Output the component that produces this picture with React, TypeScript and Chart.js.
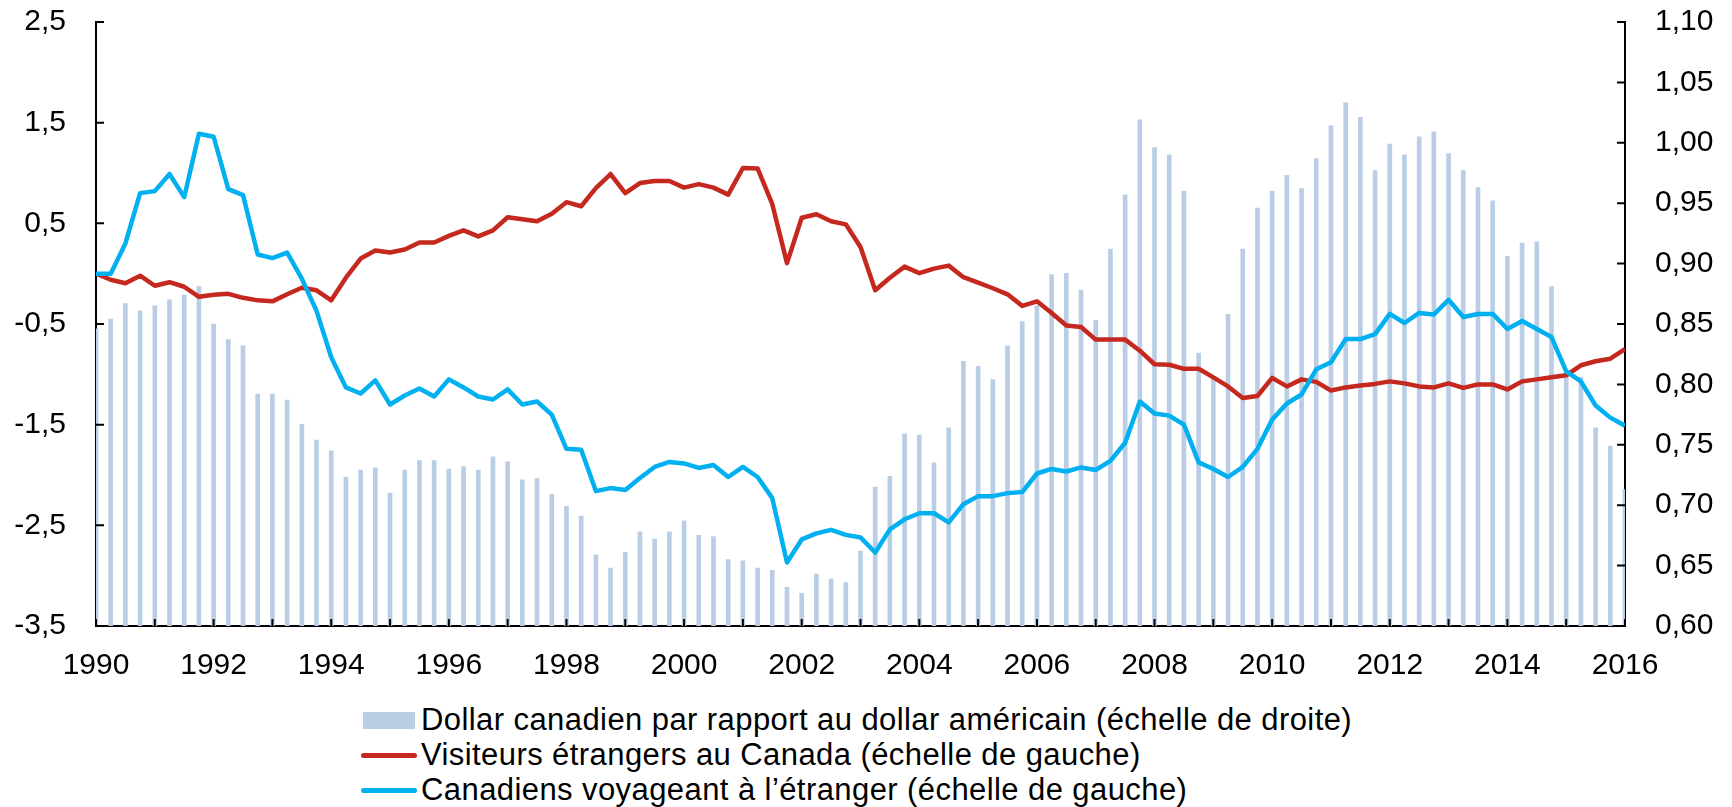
import React, { useEffect, useRef } from 'react';
import { Chart, registerables } from 'chart.js';

Chart.register(...registerables);

// ---- Data (quarterly, 1990 T1 to 2016 T1) ----
const firstYear = 1990;
const lastYear = 2016;

// Dollar canadien par rapport au dollar américain (right axis)
const cadUsd = [
  0.846, 0.854, 0.867, 0.861, 0.865, 0.870, 0.874, 0.881, 0.850, 0.837,
  0.832, 0.792, 0.792, 0.787, 0.767, 0.754, 0.745, 0.723, 0.729, 0.731,
  0.710, 0.729, 0.737, 0.737, 0.730, 0.732, 0.729, 0.740, 0.736, 0.721,
  0.722, 0.709, 0.699, 0.691, 0.659, 0.648, 0.661, 0.678, 0.672, 0.678,
  0.687, 0.675, 0.674, 0.655, 0.654, 0.648, 0.646, 0.632, 0.627, 0.643,
  0.639, 0.636, 0.662, 0.715, 0.724, 0.759, 0.758, 0.735, 0.764, 0.819,
  0.815, 0.804, 0.832, 0.852, 0.865, 0.891, 0.892, 0.878, 0.853, 0.912,
  0.957, 1.019, 0.996, 0.990, 0.960, 0.826, 0.805, 0.858, 0.912, 0.946,
  0.960, 0.973, 0.962, 0.987, 1.014, 1.033, 1.021, 0.977, 0.999, 0.990,
  1.005, 1.009, 0.991, 0.977, 0.963, 0.952, 0.906, 0.917, 0.918, 0.881,
  0.810, 0.806, 0.764, 0.749, 0.713,
];

// Visiteurs étrangers au Canada (left axis)
const visitors = [
  0.00, -0.06, -0.095, -0.02, -0.12, -0.085, -0.13, -0.23, -0.21, -0.20,
  -0.24, -0.265, -0.275, -0.205, -0.14, -0.165, -0.265, -0.04, 0.15, 0.23,
  0.21, 0.24, 0.31, 0.31, 0.375, 0.43, 0.37, 0.43, 0.56, 0.54,
  0.52, 0.595, 0.71, 0.67, 0.85, 0.99, 0.80, 0.90, 0.92, 0.92,
  0.855, 0.89, 0.855, 0.785, 1.05, 1.045, 0.69, 0.105, 0.555, 0.59,
  0.52, 0.49, 0.265, -0.165, -0.04, 0.07, 0.005, 0.05, 0.08, -0.035,
  -0.09, -0.145, -0.205, -0.32, -0.275, -0.39, -0.515, -0.53, -0.655, -0.655,
  -0.655, -0.765, -0.90, -0.905, -0.945, -0.945, -1.03, -1.12, -1.235, -1.215,
  -1.035, -1.12, -1.05, -1.075, -1.16, -1.13, -1.11, -1.095, -1.07, -1.09,
  -1.12, -1.13, -1.09, -1.135, -1.10, -1.10, -1.15, -1.07, -1.05, -1.03,
  -1.01, -0.91, -0.87, -0.845, -0.75,
];

// Canadiens voyageant à l'étranger (left axis)
const travellers = [
  0.00, 0.00, 0.30, 0.80, 0.82, 0.99, 0.76, 1.39, 1.36, 0.84,
  0.78, 0.19, 0.155, 0.21, -0.05, -0.37, -0.83, -1.13, -1.19, -1.06,
  -1.30, -1.21, -1.14, -1.22, -1.05, -1.13, -1.22, -1.25, -1.15, -1.30,
  -1.27, -1.40, -1.74, -1.75, -2.16, -2.13, -2.15, -2.03, -1.92, -1.87,
  -1.885, -1.93, -1.90, -2.02, -1.92, -2.02, -2.23, -2.87, -2.64, -2.58,
  -2.545, -2.595, -2.62, -2.77, -2.54, -2.44, -2.38, -2.38, -2.47, -2.29,
  -2.21, -2.21, -2.18, -2.17, -1.985, -1.94, -1.965, -1.925, -1.95, -1.86,
  -1.68, -1.27, -1.39, -1.41, -1.50, -1.875, -1.94, -2.02, -1.92, -1.74,
  -1.45, -1.29, -1.20, -0.95, -0.88, -0.65, -0.65, -0.60, -0.40, -0.49,
  -0.39, -0.405, -0.26, -0.43, -0.40, -0.40, -0.55, -0.47, -0.55, -0.63,
  -0.97, -1.07, -1.31, -1.43, -1.51,
];

const leftMin = -3.5;
const leftMax = 2.5;
const leftStep = 1;
const rightMin = 0.6;
const rightMax = 1.1;
const rightStep = 0.05;

const legendLabels = [
  'Dollar canadien par rapport au dollar américain (échelle de droite)',
  'Visiteurs étrangers au Canada (échelle de gauche)',
  'Canadiens voyageant à l’étranger (échelle de gauche)',
];

const BAR_COLOR = '#B9CDE5';
const RED = '#C5281E';
const CYAN = '#00B0F0';
const FONT = "'Liberation Sans', Arial, Helvetica, sans-serif";

const quarterX = (i: number) => firstYear + i / 4;
const toPoints = (arr: number[]) => arr.map((v, i) => ({ x: quarterX(i), y: v }));
const comma = (v: number, d: number) => v.toFixed(d).replace('.', ',');

// Desired plot box (page pixels)
const AREA_TOP = 22;
const AREA_BOTTOM = 626;

const inwardTicks = {
  id: 'inwardTicks',
  afterDraw(chart: any) {
    const { ctx, chartArea, scales } = chart;
    ctx.save();
    ctx.strokeStyle = '#000';
    ctx.lineWidth = 2;
    ctx.beginPath();
    scales.x.ticks.forEach((t: any) => {
      const px = scales.x.getPixelForValue(t.value);
      ctx.moveTo(px, chartArea.bottom);
      ctx.lineTo(px, chartArea.bottom - 7);
    });
    scales.y.ticks.forEach((t: any) => {
      const py = scales.y.getPixelForValue(t.value);
      ctx.moveTo(chartArea.left, py);
      ctx.lineTo(chartArea.left + 8, py);
    });
    scales.y1.ticks.forEach((t: any) => {
      const py = scales.y1.getPixelForValue(t.value);
      ctx.moveTo(chartArea.right, py);
      ctx.lineTo(chartArea.right - 8, py);
    });
    ctx.stroke();
    ctx.restore();
  },
};

export default function App() {
  const canvasRef = useRef<HTMLCanvasElement | null>(null);
  const [shift, setShift] = React.useState(0);

  useEffect(() => {
    document.body.style.margin = '0';
    const canvas = canvasRef.current;
    if (!canvas) return;
    const tickFont = { family: FONT, size: 30 };
    const chart = new Chart(canvas, {
      type: 'line',
      data: {
        datasets: [
          {
            type: 'line',
            label: legendLabels[2],
            data: toPoints(travellers),
            borderColor: CYAN,
            backgroundColor: CYAN,
            borderWidth: 4.5,
            pointRadius: 0,
            tension: 0,
            borderJoinStyle: 'round',
            yAxisID: 'y',
            order: 0,
          },
          {
            type: 'line',
            label: legendLabels[1],
            data: toPoints(visitors),
            borderColor: RED,
            backgroundColor: RED,
            borderWidth: 4.5,
            pointRadius: 0,
            tension: 0,
            borderJoinStyle: 'round',
            yAxisID: 'y',
            order: 1,
          },
          {
            type: 'bar',
            label: legendLabels[0],
            data: toPoints(cadUsd),
            backgroundColor: BAR_COLOR,
            borderWidth: 0,
            barThickness: 4,
            yAxisID: 'y1',
            order: 2,
          },
        ] as any,
      },
      options: {
        animation: false,
        responsive: false,
        maintainAspectRatio: false,
        layout: { padding: 0 },
        plugins: {
          legend: { display: false },
          tooltip: { enabled: false },
        },
        scales: {
          x: {
            type: 'linear',
            position: 'bottom',
            min: firstYear,
            max: lastYear,
            offset: false,
            grid: { drawOnChartArea: false, drawTicks: false },
            border: { display: true, color: '#000', width: 2 },
            ticks: {
              stepSize: 1,
              autoSkip: false,
              maxRotation: 0,
              padding: 22,
              color: '#000',
              font: tickFont,
              callback: (v: any) => (Number(v) % 2 === 0 ? String(v) : ''),
            },
            afterFit: (s: any) => { s.height = 75; },
          },
          y: {
            type: 'linear',
            position: 'left',
            min: leftMin,
            max: leftMax,
            grid: { drawOnChartArea: false, drawTicks: false },
            border: { display: true, color: '#000', width: 2 },
            ticks: {
              stepSize: leftStep,
              padding: 30,
              color: '#000',
              font: tickFont,
              callback: (v: any) => comma(Number(v), 1),
            },
            afterFit: (s: any) => { s.width = 96; },
          },
          y1: {
            type: 'linear',
            position: 'right',
            min: rightMin,
            max: rightMax,
            grid: { drawOnChartArea: false, drawTicks: false },
            border: { display: true, color: '#000', width: 2 },
            ticks: {
              stepSize: rightStep,
              padding: 30,
              color: '#000',
              font: tickFont,
              callback: (v: any) => comma(Number(v), 2),
            },
            afterFit: (s: any) => { s.width = 107; },
          },
        },
      } as any,
      plugins: [inwardTicks],
    });
    // Align the plot box to the reference: resize so the plot height matches,
    // then shift the canvas so its top lands at AREA_TOP.
    const ca = chart.chartArea;
    const wantedHeight = AREA_BOTTOM - AREA_TOP;
    const extra = wantedHeight - (ca.bottom - ca.top);
    if (Math.abs(extra) > 0.5) {
      chart.resize(1732, 700 + extra);
    }
    const ca2 = chart.chartArea;
    setShift(AREA_TOP - ca2.top);
    return () => chart.destroy();
  }, []);

  const rowMid = [720, 755, 790];
  const textStyle: React.CSSProperties = {
    position: 'absolute',
    left: 421,
    fontFamily: FONT,
    fontSize: 31,
    letterSpacing: '0.42px',
    lineHeight: '34px',
    color: '#000',
    whiteSpace: 'nowrap',
  };

  return (
    <div style={{ position: 'relative', width: 1732, height: 807, background: '#fff', overflow: 'hidden' }}>
      <div style={{ position: 'absolute', left: 0, top: shift, width: 1732 }}>
        <canvas
          ref={canvasRef}
          width={1732}
          height={700}
          style={{ display: 'block', width: 1732, height: 700 }}
        />
      </div>
      <div style={{ position: 'absolute', left: 363, top: rowMid[0] - 8.5, width: 52, height: 17, background: BAR_COLOR }} />
      <div style={{ position: 'absolute', left: 361, top: rowMid[1] - 2.5, width: 56, height: 5, borderRadius: 2.5, background: RED }} />
      <div style={{ position: 'absolute', left: 361, top: rowMid[2] - 2.5, width: 56, height: 5, borderRadius: 2.5, background: CYAN }} />
      {legendLabels.map((t, k) => (
        <div key={k} style={{ ...textStyle, top: rowMid[k] - 16.7 }}>{t}</div>
      ))}
    </div>
  );
}
